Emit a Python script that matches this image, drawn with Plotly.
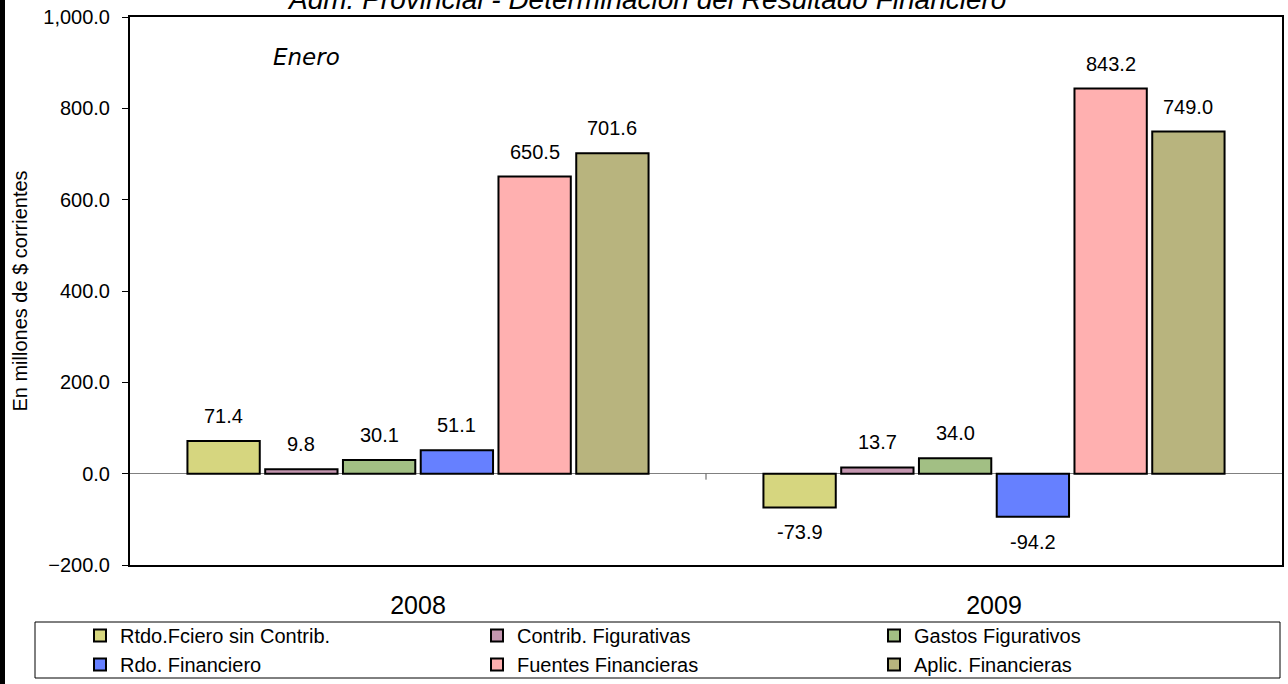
import plotly.graph_objects as go

categories = ["2008", "2009"]
series_names = ["Rtdo.Fciero sin Contrib.", "Contrib. Figurativas", "Gastos Figurativos",
                "Rdo. Financiero", "Fuentes Financieras", "Aplic. Financieras"]
rtdo_sin_contrib = [71.4, -73.9]
contrib_figurativas = [9.8, 13.7]
gastos_figurativos = [30.1, 34.0]
rdo_financiero = [51.1, -94.2]
fuentes_financieras = [650.5, 843.2]
aplic_financieras = [701.6, 749.0]
series_values = [rtdo_sin_contrib, contrib_figurativas, gastos_figurativos,
                 rdo_financiero, fuentes_financieras, aplic_financieras]
colors = ["#D6D67F", "#C496B0", "#A2BF84", "#6680FF", "#FFB0B0", "#B8B47E"]
y_ticks = [-200, 0, 200, 400, 600, 800, 1000]

FONT = "Liberation Sans, Arial, sans-serif"
BARGAP = 0.19
GROUPGAP = 0.07
W, H = 1288, 684
ML, MR, MT, MB = 130, 6, 17, 119
PW, PH = W - ML - MR, H - MT - MB


def px_x(p):
    return (p - ML) / PW


def px_y(p):
    return (H - MB - p) / PH


fig = go.Figure()
for name, vals, col in zip(series_names, series_values, colors):
    fig.add_trace(go.Bar(
        x=categories, y=vals, name=name,
        marker=dict(color=col, line=dict(color="black", width=2)),
    ))

# data labels
n = len(series_names)
slot = (1 - BARGAP) / n
for i, vals in enumerate(series_values):
    for j, v in enumerate(vals):
        xpos = j - (1 - BARGAP) / 2 + slot * (i + 0.5)
        fig.add_annotation(
            x=xpos, y=v, xref="x", yref="y", text=f"{v:.1f}", showarrow=False,
            yanchor="middle", yshift=25 if v >= 0 else -25,
            font=dict(family=FONT, size=20, color="black"),
        )

fig.add_annotation(
    x=px_x(646), y=px_y(0), xref="paper", yref="paper",
    text="<i>Adm. Provincial - Determinación del Resultado Financiero</i>",
    showarrow=False, yanchor="middle", xanchor="center",
    font=dict(family=FONT, size=28, color="black"),
)
fig.add_annotation(
    x=px_x(306), y=px_y(57), xref="paper", yref="paper",
    text="<i>Enero</i>", showarrow=False, xanchor="center", yanchor="middle",
    font=dict(family="Comic Sans MS, DejaVu Sans", size=23, color="black"),
)

# left black strip
fig.add_shape(type="rect", xref="paper", yref="paper",
              x0=px_x(0), x1=px_x(5), y0=-0.3, y1=1.1,
              fillcolor="black", line=dict(width=0), layer="above")
# legend frame
fig.add_shape(type="rect", xref="paper", yref="paper",
              x0=px_x(35), x1=px_x(1280), y0=px_y(678), y1=px_y(622),
              fillcolor="white", line=dict(color="black", width=1), layer="below")
# category separator tick on zero line
fig.add_shape(type="line", xref="x", yref="y", x0=0.5, x1=0.5,
              ysizemode="pixel", yanchor=0, y0=0, y1=-6,
              line=dict(color="#555555", width=1))

fig.update_layout(
    width=W, height=H,
    margin=dict(l=ML, r=MR, t=MT, b=MB, autoexpand=False),
    paper_bgcolor="white", plot_bgcolor="white",
    barmode="group", bargap=BARGAP, bargroupgap=GROUPGAP,
    font=dict(family=FONT, size=20, color="black"),
    showlegend=True,
    legend=dict(
        orientation="h", x=px_x(80), y=px_y(616),
        xanchor="left", yanchor="top",
        bgcolor="rgba(0,0,0,0)", borderwidth=0,
        entrywidth=352, entrywidthmode="pixels",
        font=dict(family=FONT, size=20, color="black"),
        traceorder="normal", tracegroupgap=0,
    ),
)
fig.update_xaxes(
    showline=True, linecolor="black", linewidth=2, mirror=True,
    ticks="", tickfont=dict(family=FONT, size=25), ticklabelstandoff=17,
    showgrid=False,
)
fig.update_yaxes(
    range=[-200, 1000], tickvals=y_ticks, tickformat=",.1f",
    showline=True, linecolor="black", linewidth=2, mirror=True,
    ticks="outside", ticklen=6, tickcolor="black", tickwidth=1,
    tickfont=dict(family=FONT, size=20), ticklabelstandoff=8,
    showgrid=False, zeroline=True, zerolinecolor="#808080", zerolinewidth=1,
    title=dict(text="En millones de $ corrientes", font=dict(family=FONT, size=20), standoff=10),
)

fig.write_html("out.html")
